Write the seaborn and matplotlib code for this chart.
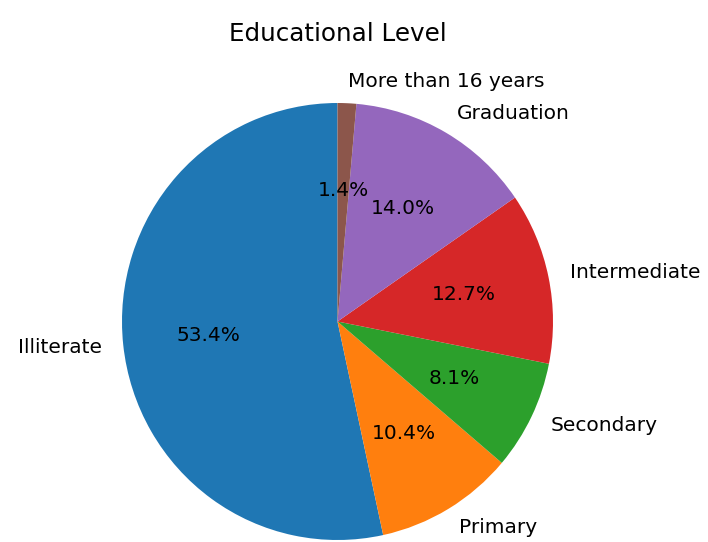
import matplotlib
matplotlib.use("Agg")
import matplotlib.pyplot as plt
import seaborn as sns

# Share of respondents by educational level
levels = ["Illiterate", "Primary", "Secondary", "Intermediate", "Graduation", "More than 16 years"]
shares = [53.4, 10.4, 8.1, 12.7, 14.0, 1.4]

colors = sns.color_palette("tab10", n_colors=len(levels))

W, H = 708, 542
cx, cy = 337.5, 321.5          # pie centre in pixels (from top-left)
rx, ry = 215.5, 218.5          # pixels per data unit
fig = plt.figure(figsize=(W / 100, H / 100), dpi=100)
ax = fig.add_axes([
    (cx - 1.25 * rx) / W,
    (H - cy - 1.25 * ry) / H,
    2.5 * rx / W,
    2.5 * ry / H,
])

ax.pie(
    shares,
    labels=levels,
    colors=colors,
    autopct="%1.1f%%",
    startangle=90,
    textprops={"fontsize": 14.5},
)
ax.set_aspect("auto")
ax.set_xlim(-1.25, 1.25)
ax.set_ylim(-1.25, 1.25)
ax.set_title("Educational Level", fontsize=17.7, pad=5)

fig.savefig("out.png", dpi=100)
